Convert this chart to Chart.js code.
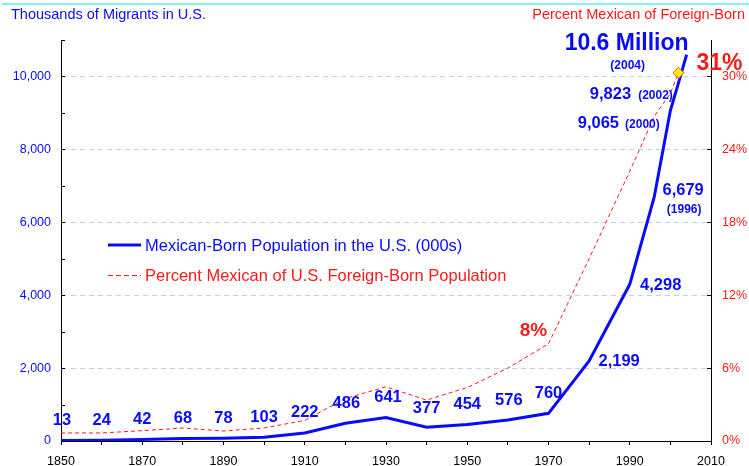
<!DOCTYPE html>
<html>
<head>
<meta charset="utf-8">
<script src="https://cdn.jsdelivr.net/npm/chart.js@4.4.0/dist/chart.umd.min.js"></script>
<style>
    body { margin: 0; background: #fff; }
    #wrap { position: relative; width: 749px; height: 466px; }
    #topline { position: absolute; left: 2px; right: 0; top: 3px; height: 2px; background: #80f2f2; }
</style>
</head>
<body>
<div id="wrap">
    <div id="topline"></div>
    <canvas id="migrantsChart" width="749" height="466"></canvas>
</div>
<script>
// Mexican-born population in the U.S. and share of foreign-born

const years = [1850, 1860, 1870, 1880, 1890, 1900, 1910, 1920, 1930, 1940, 1950, 1960, 1970, 1980, 1990, 1996, 2000, 2002, 2004];
const mexicanBorn = [13, 24, 42, 68, 78, 103, 222, 486, 641, 377, 454, 576, 760, 2199, 4298, 6679, 9065, 9823, 10600];
const percentMexican = [0.66, 0.66, 0.85, 1.07, 0.82, 1.07, 1.7, 3.5, 4.46, 3.37, 4.4, 6.0, 8.0, 15.0, 22.2, 26.7, 28.6, 30.3, null];

const valueLabels = ['13', '24', '42', '68', '78', '103', '222', '486', '641', '377', '454', '576', '760', '2,199', '4,298', '6,679', '9,065', '9,823', '10.6 Million'];
const yearLabels = ['', '', '', '', '', '', '', '', '', '', '', '', '', '', '', '(1996)', '(2000)', '(2002)', '(2004)'];
const xTickLabels = ['1850', '1870', '1890', '1910', '1930', '1950', '1970', '1990', '2010'];
const leftTickLabels = ['0', '2,000', '4,000', '6,000', '8,000', '10,000'];
const rightTickLabels = ['0%', '6%', '12%', '18%', '24%', '30%'];

// label placement relative to the data point (pixels)
const valueOffsets = [[1, -20], [0, -20], [0, -20], [0, -20], [0, -20], [0, -20], [0, -20], [1, -20], [2, -20], [0, -19], [0, -20], [1, -20], [0, -20],
    [30, 1], [31, 1], [29, -7], [-72, 13], [-68, 12], [-60, -11]];
const yearOffsets = {15: [30, 12], 16: [-28, 14], 17: [-23, 13], 18: [-59, 11]};

const BLUE = '#0a0aff';
const RED = '#ff1a1a';
const FONT = "'Liberation Sans', Arial, sans-serif";

const popPoints = years.map((yr, i) => ({ x: yr, y: mexicanBorn[i] }));
const pctPoints = years.map((yr, i) => ({ x: yr, y: percentMexican[i] }));
const diamondIndex = 17;

// inward tick marks on both value axes
const innerTicks = {
    id: 'innerTicks',
    afterDraw(chart) {
        const ctx = chart.ctx;
        const area = chart.chartArea;
        ctx.save();
        ctx.strokeStyle = '#000';
        ctx.lineWidth = 1;
        chart.scales.y.ticks.forEach(t => {
            const py = Math.round(chart.scales.y.getPixelForValue(t.value)) + 0.5;
            ctx.beginPath();
            ctx.moveTo(area.left, py);
            ctx.lineTo(area.left + 4, py);
            ctx.stroke();
        });
        chart.scales.y1.ticks.forEach(t => {
            const py = Math.round(chart.scales.y1.getPixelForValue(t.value)) + 0.5;
            ctx.beginPath();
            ctx.moveTo(area.right, py);
            ctx.lineTo(area.right - 4, py);
            ctx.stroke();
        });
        ctx.restore();
    }
};

// axis titles, legend and data labels
const annotations = {
    id: 'annotations',
    afterDraw(chart) {
        const ctx = chart.ctx;
        const xs = chart.scales.x;
        const ys = chart.scales.y;
        const ys1 = chart.scales.y1;
        ctx.save();

        // axis titles
        ctx.textBaseline = 'middle';
        ctx.font = '14.5px ' + FONT;
        ctx.fillStyle = BLUE;
        ctx.textAlign = 'left';
        ctx.fillText('Thousands of Migrants in U.S.', 11, 15);
        ctx.fillStyle = RED;
        ctx.textAlign = 'right';
        ctx.fillText('Percent Mexican of Foreign-Born', 745, 15);

        // legend
        ctx.textAlign = 'left';
        ctx.strokeStyle = BLUE;
        ctx.lineWidth = 3;
        ctx.beginPath();
        ctx.moveTo(108, 245);
        ctx.lineTo(141, 245);
        ctx.stroke();
        ctx.strokeStyle = RED;
        ctx.lineWidth = 1;
        ctx.setLineDash([5, 3]);
        ctx.beginPath();
        ctx.moveTo(108, 275.5);
        ctx.lineTo(141, 275.5);
        ctx.stroke();
        ctx.setLineDash([]);
        ctx.font = '16.5px ' + FONT;
        ctx.fillStyle = BLUE;
        ctx.fillText('Mexican-Born Population in the U.S. (000s)', 145, 246);
        ctx.fillStyle = RED;
        ctx.fillText('Percent Mexican of U.S. Foreign-Born Population', 145, 276);

        // value labels
        ctx.textAlign = 'center';
        ctx.fillStyle = BLUE;
        years.forEach((yr, i) => {
            const px = xs.getPixelForValue(yr);
            const py = ys.getPixelForValue(mexicanBorn[i]);
            const [dx, dy] = valueOffsets[i];
            ctx.font = (i === years.length - 1 ? 'bold 23px ' : 'bold 16.5px ') + FONT;
            ctx.fillText(valueLabels[i], px + dx, py + dy);
            if (yearOffsets[i]) {
                ctx.font = 'bold 12px ' + FONT;
                ctx.fillText(yearLabels[i], px + yearOffsets[i][0], py + yearOffsets[i][1]);
            }
        });

        // percent callouts
        ctx.fillStyle = RED;
        ctx.font = 'bold 19px ' + FONT;
        ctx.fillText('8%', xs.getPixelForValue(1970) - 15, ys1.getPixelForValue(percentMexican[12]) - 13);
        ctx.font = 'bold 23px ' + FONT;
        ctx.fillText('31%', xs.getPixelForValue(years[diamondIndex]) + 41, ys1.getPixelForValue(percentMexican[diamondIndex]) - 9);

        ctx.restore();
    }
};

new Chart(document.getElementById('migrantsChart').getContext('2d'), {
    type: 'line',
    data: {
        datasets: [{
            label: 'Mexican-Born Population in the U.S. (000s)',
            data: popPoints,
            yAxisID: 'y',
            borderColor: BLUE,
            borderWidth: 3,
            pointRadius: 0,
            tension: 0,
            order: 1
        }, {
            label: 'Percent Mexican of U.S. Foreign-Born Population',
            data: pctPoints,
            yAxisID: 'y1',
            borderColor: RED,
            borderWidth: 1,
            borderDash: [4, 3],
            tension: 0,
            pointStyle: 'rectRot',
            pointRadius: ctx => ctx.dataIndex === diamondIndex ? 5.5 : 0,
            pointBackgroundColor: '#ffee00',
            pointBorderColor: '#ff5500',
            pointBorderWidth: 1,
            order: 0
        }]
    },
    options: {
        responsive: false,
        animation: false,
        layout: { padding: { top: 40, left: 0, right: 0, bottom: 0 } },
        plugins: {
            legend: { display: false },
            tooltip: { enabled: false }
        },
        scales: {
            x: {
                type: 'linear',
                min: 1850,
                max: 2010,
                afterFit: s => { s.height = 25; },
                border: { color: '#000', width: 1 },
                grid: { drawOnChartArea: false, drawTicks: true, tickLength: 4, tickColor: '#000' },
                ticks: {
                    stepSize: 10,
                    autoSkip: false,
                    maxRotation: 0,
                    padding: 9,
                    color: '#000',
                    font: { family: FONT, size: 12.5 },
                    callback: v => {
                        const k = xTickLabels.indexOf(String(v));
                        return k >= 0 ? xTickLabels[k] : '';
                    }
                }
            },
            y: {
                position: 'left',
                min: 0,
                max: 11000,
                afterFit: s => { s.width = 61; },
                border: { color: '#000', width: 1, dash: [5, 4] },
                grid: {
                    drawTicks: false,
                    color: ctx => (ctx.tick && ctx.tick.value > 0 && ctx.tick.value % 2000 === 0) ? '#c4ccff' : 'rgba(0,0,0,0)'
                },
                ticks: {
                    stepSize: 1000,
                    autoSkip: false,
                    padding: 10,
                    color: BLUE,
                    font: { family: FONT, size: 12.5 },
                    callback: v => v % 2000 === 0 ? leftTickLabels[v / 2000] : ''
                }
            },
            y1: {
                position: 'right',
                min: 0,
                max: 33,
                afterFit: s => { s.width = 38; },
                afterBuildTicks: s => { s.ticks = s.ticks.filter(t => t.value % 6 === 0); },
                border: { color: '#000', width: 1 },
                grid: { drawOnChartArea: false, drawTicks: false },
                ticks: {
                    stepSize: 6,
                    autoSkip: false,
                    padding: 11,
                    color: RED,
                    font: { family: FONT, size: 12.5 },
                    callback: v => rightTickLabels[v / 6]
                }
            }
        }
    },
    plugins: [innerTicks, annotations]
});
</script>
</body>
</html>
